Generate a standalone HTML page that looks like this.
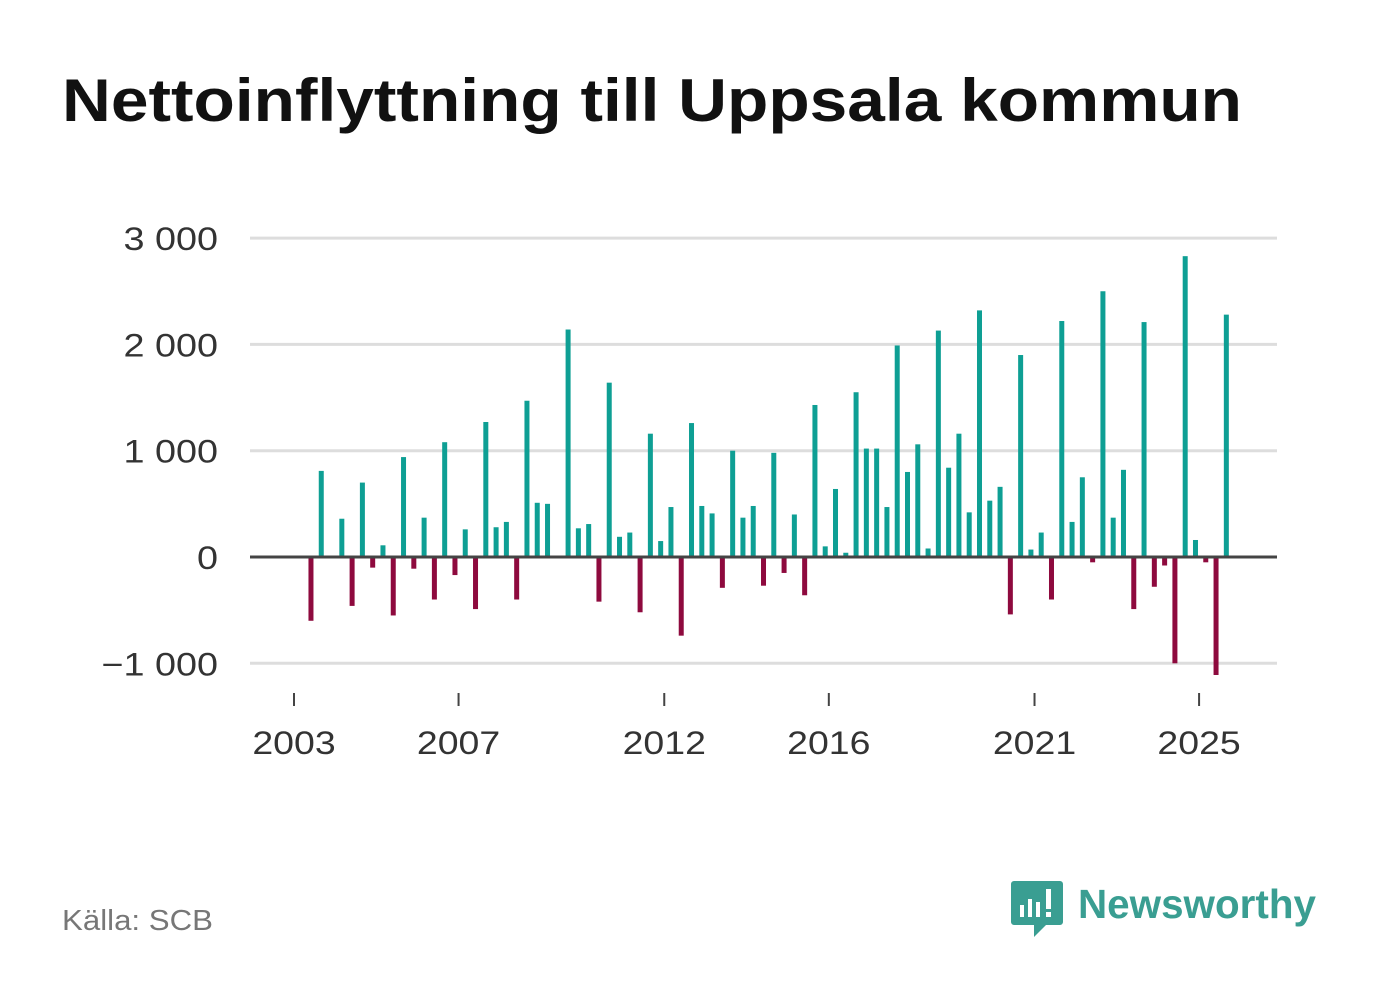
<!DOCTYPE html>
<html><head><meta charset="utf-8"><style>
html,body{margin:0;padding:0;background:#fff;}
svg{display:block;font-family:"Liberation Sans",sans-serif;}
</style></head><body>
<svg id="chart" width="1382" height="999" viewBox="0 0 1382 999">
<text x="62" y="121" font-size="60" font-weight="bold" fill="#111" textLength="1180" lengthAdjust="spacingAndGlyphs">Nettoinflyttning till Uppsala kommun</text>
<g id="grid"></g>
<g id="bars"></g>
<g id="xaxis"></g>
<text x="62" y="930" font-size="29" fill="#777" textLength="151" lengthAdjust="spacingAndGlyphs">Källa: SCB</text>
<g>
<path d="M1014 881 h46 a3 3 0 0 1 3 3 v38 a3 3 0 0 1 -3 3 h-14 l-12 12 v-12 h-20 a3 3 0 0 1 -3 -3 v-38 a3 3 0 0 1 3 -3z" fill="#3a9e92"/>
<rect x="1020" y="905" width="4" height="12" fill="#fff"/><rect x="1028" y="899" width="4" height="18" fill="#fff"/><rect x="1036" y="902" width="4" height="15" fill="#fff"/><rect x="1046" y="889" width="5" height="20" fill="#fff"/><rect x="1046" y="912" width="5" height="5" fill="#fff"/>
<text x="1078" y="918" font-size="41" font-weight="bold" fill="#3a9e92" textLength="238" lengthAdjust="spacingAndGlyphs">Newsworthy</text>
</g>
</svg>
<script>
const categories = [];
for (let k = 0; k < 90; k++) { const q = k + 1; categories.push((2003 + Math.floor(q / 4)) + 'K' + (q % 4 + 1)); }
const values = [-600,810,0,360,-460,700,-100,110,-550,940,-110,370,-400,1080,-170,260,-490,1270,280,330,-400,1470,510,500,0,2140,270,310,-420,1640,190,230,-520,1160,150,470,-740,1260,480,410,-290,1000,370,480,-270,980,-150,400,-360,1430,100,640,40,1550,1020,1020,470,1990,800,1060,80,2130,840,1160,420,2320,530,660,-540,1900,70,230,-400,2220,330,750,-50,2500,370,820,-490,2210,-280,-80,-1000,2830,160,-50,-1110,2280];
const yTicks = [-1000,0,1000,2000,3000];
const yTickLabels = ['−1 000','0','1 000','2 000','3 000'];
const xTickYears = [2003,2007,2012,2016,2021,2025];

const NS = 'http://www.w3.org/2000/svg';
const y = v => 557 - v * 0.1063;
const qw = 41.14 / 4;
const yearX = yr => 294 + (yr - 2003) * 41.14;
const barX = i => yearX(2003) + (i + 1.65) * qw;

function widen(t, f) {
  const w = t.getComputedTextLength();
  t.setAttribute('textLength', (w * f).toFixed(1));
  t.setAttribute('lengthAdjust', 'spacingAndGlyphs');
}

const grid = document.getElementById('grid');
yTicks.forEach((t, k) => {
  if (t !== 0) {
    const l = document.createElementNS(NS, 'line');
    
    
    l.setAttribute('x1', 250); l.setAttribute('x2', 1277);
    l.setAttribute('y1', y(t)); l.setAttribute('y2', y(t));
    l.setAttribute('stroke', '#ddd');
    l.setAttribute('stroke-width', 3);
    grid.appendChild(l);
  }
  const tx = document.createElementNS(NS, 'text');
  
  
  tx.setAttribute('x', 218); tx.setAttribute('y', y(t) + 12);
  tx.setAttribute('text-anchor', 'end'); tx.setAttribute('font-size', '32'); tx.setAttribute('fill', '#333');
  tx.textContent = yTickLabels[k];
  grid.appendChild(tx);
  widen(tx, 1.18);
});
const bars = document.getElementById('bars');
values.forEach((v, i) => {
  const r = document.createElementNS(NS, 'rect');
  
  
  r.setAttribute('x', barX(i) - 2.5); r.setAttribute('width', 5);
  r.setAttribute('y', Math.min(y(v), y(0))); r.setAttribute('height', Math.abs(y(v) - y(0)));
  r.setAttribute('fill', v >= 0 ? '#0e9f94' : '#8e0a3e');
  bars.appendChild(r);
});
const zl = document.createElementNS(NS, 'line');


zl.setAttribute('x1', 250); zl.setAttribute('x2', 1277); zl.setAttribute('y1', y(0)); zl.setAttribute('y2', y(0));
zl.setAttribute('stroke', '#444'); zl.setAttribute('stroke-width', 3);
bars.appendChild(zl);
const xa = document.getElementById('xaxis');
xTickYears.forEach(yr => {
  const l = document.createElementNS(NS, 'line');
  
  
  l.setAttribute('x1', yearX(yr)); l.setAttribute('x2', yearX(yr)); l.setAttribute('y1', 693); l.setAttribute('y2', 706);
  l.setAttribute('stroke', '#444'); l.setAttribute('stroke-width', 2);
  xa.appendChild(l);
  const t = document.createElementNS(NS, 'text');
  
  
  t.setAttribute('x', yearX(yr)); t.setAttribute('y', 754);
  t.setAttribute('text-anchor', 'middle'); t.setAttribute('font-size', '32'); t.setAttribute('fill', '#333');
  t.textContent = yr;
  xa.appendChild(t);
  widen(t, 1.17);
});
</script>
</body></html>
